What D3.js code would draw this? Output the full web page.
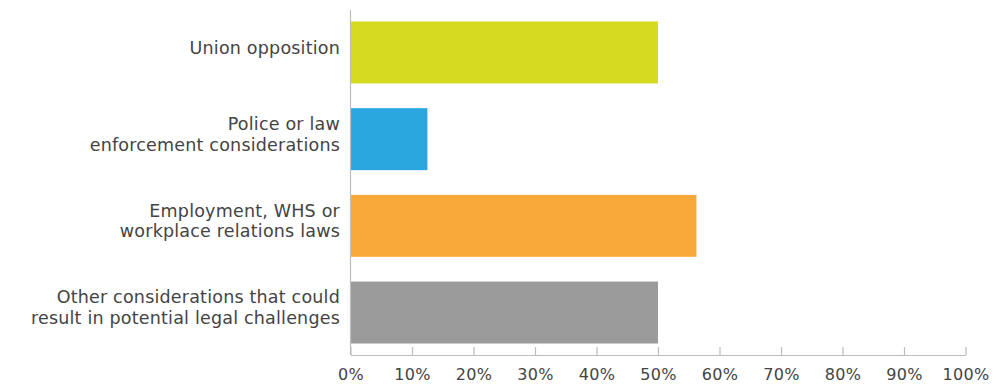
<!DOCTYPE html>
<html>
<head>
<meta charset="utf-8">
<script src="https://cdn.jsdelivr.net/npm/d3@7"></script>
<style>
  html, body { margin: 0; padding: 0; background: #fff; }
  svg { display: block; }
  text { font-family: "DejaVu Sans", sans-serif; fill: #444; }
</style>
</head>
<body>
<svg id="chart" width="993" height="387"></svg>
<script>
// Reasons cited, share of respondents
const categories = [
  ["Union opposition"],
  ["Police or law", "enforcement considerations"],
  ["Employment, WHS or", "workplace relations laws"],
  ["Other considerations that could", "result in potential legal challenges"]
];
const values = [0.50, 0.125, 0.5625, 0.50];
const colors = ["#d5dc1f", "#2aa7df", "#f8a93a", "#9b9b9b"];
const tickValues = [0, 0.1, 0.2, 0.3, 0.4, 0.5, 0.6, 0.7, 0.8, 0.9, 1.0];

const svg = d3.select("#chart");
const plotLeft = 350.5, plotRight = 965.5, plotTop = 10, plotBottom = 355;

const x = d3.scaleLinear().domain([0, 1]).range([plotLeft, plotRight]);
const y = d3.scaleBand()
  .domain(d3.range(categories.length))
  .range([plotTop, plotBottom])
  .paddingInner(0.285)
  .paddingOuter(0.1325);

// bars
svg.append("g").selectAll("rect")
  .data(values)
  .join("rect")
  .attr("x", x(0))
  .attr("y", (d, i) => y(i))
  .attr("width", d => x(d) - x(0))
  .attr("height", y.bandwidth())
  .attr("fill", (d, i) => colors[i]);

// x axis with inward ticks
const xAxis = svg.append("g")
  .attr("transform", `translate(0,${plotBottom})`)
  .call(d3.axisBottom(x)
    .tickValues(tickValues)
    .tickSizeInner(-8)
    .tickSizeOuter(0)
    .tickPadding(14)
    .tickFormat(d3.format(".0%")));
xAxis.select(".domain").attr("stroke", "#bdbdbd").attr("stroke-width", 1.2);
xAxis.selectAll(".tick line").attr("stroke", "#bdbdbd").attr("stroke-width", 1.2);
xAxis.selectAll(".tick text")
  .attr("font-size", 16)
  .style("font-family", "DejaVu Sans, sans-serif")
  .attr("fill", "#4a4a4a")
  .attr("letter-spacing", "0.3");

// y axis line
svg.append("line")
  .attr("x1", x(0)).attr("x2", x(0))
  .attr("y1", plotTop).attr("y2", plotBottom)
  .attr("stroke", "#bdbdbd").attr("stroke-width", 1.2);

// category labels
const lineH = 20.5;
svg.append("g").selectAll("text")
  .data(categories)
  .join("text")
  .attr("text-anchor", "end")
  .attr("font-size", 17.5)
  .attr("letter-spacing", "0.2")
  .each(function(lines, i) {
    const cy = y(i) + y.bandwidth() / 2 - 5;
    const t = d3.select(this);
    lines.forEach((ln, k) => {
      t.append("tspan")
        .attr("x", 340)
        .attr("y", cy + (k - (lines.length - 1) / 2) * lineH)
        .attr("dy", "0.35em")
        .text(ln);
    });
  });
</script>
</body>
</html>
